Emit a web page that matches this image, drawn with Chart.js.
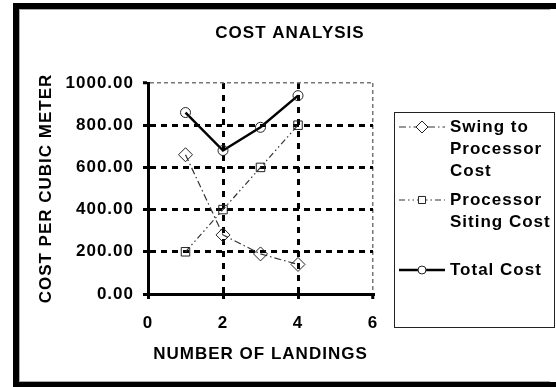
<!DOCTYPE html>
<html>
<head>
<meta charset="utf-8">
<script src="https://cdn.jsdelivr.net/npm/chart.js@4/dist/chart.umd.min.js"></script>
<style>
  html, body { margin: 0; padding: 0; background: #fff; overflow: hidden; }
  #wrap { position: relative; width: 556px; height: 387px; overflow: hidden; background: #fff; }
  #frame { position: absolute; left: 13px; top: 3px; width: 530px; height: 373px;
           border: 0; border-left: 6px solid #000; border-top: 6px solid #000; border-bottom: 5px solid #000; }
  #inner { position: absolute; left: 0; top: 0; width: 530px; height: 371px;
           border: 0; border-left: 1px solid #aaa; border-top: 1px solid #aaa; border-bottom: 1px solid #aaa; }
  #ext { position: absolute; left: 549px; top: 3px; width: 7px; height: 384px;
         border-top: 6px solid #000; border-bottom: 5px solid #000; box-sizing: border-box; }
  canvas { position: absolute; left: 0; top: 0; }
</style>
</head>
<body>
<div id="wrap">
  <div id="frame"><div id="inner"></div></div>
  <div id="ext"></div>
  <canvas id="c" width="556" height="387"></canvas>
</div>
<script>
// ---- data ----
const chartTitle = "COST ANALYSIS";
const xAxisTitle = "NUMBER OF LANDINGS";
const yAxisTitle = "COST PER CUBIC METER";
const landings = [1, 2, 3, 4];
const swingToProcessorCost = [660, 280, 190, 140];
const processorSitingCost = [200, 400, 600, 800];
const totalCost = [860, 680, 790, 940];
const seriesLabels = ["Swing to Processor Cost", "Processor Siting Cost", "Total Cost"];
const legendLines = [["Swing to", "Processor", "Cost"], ["Processor", "Siting Cost"], ["Total Cost"]];
const xTickValues = [0, 2, 4, 6];
const yTickValues = [0, 200, 400, 600, 800, 1000];

const FONT = "'Liberation Sans', Arial, sans-serif";
const toPoints = (ys) => landings.map((x, i) => ({ x: x, y: ys[i] }));

const spacingPlugin = {
  id: 'spacing',
  beforeDraw(chart) { chart.ctx.letterSpacing = '1px'; }
};

const titlePlugin = {
  id: 'customTitle',
  afterDraw(chart) {
    const ctx = chart.ctx;
    ctx.save();
    ctx.letterSpacing = '1px';
    ctx.font = "bold 17px " + FONT;
    ctx.fillStyle = '#000';
    ctx.textAlign = 'center';
    ctx.textBaseline = 'middle';
    ctx.fillText(chartTitle, 290, 33);
    ctx.restore();
  }
};

const legendPlugin = {
  id: 'customLegend',
  afterDraw(chart) {
    const ctx = chart.ctx;
    ctx.save();
    ctx.letterSpacing = '1px';
    ctx.setLineDash([]);
    ctx.lineWidth = 1;
    ctx.strokeStyle = '#222';
    ctx.strokeRect(394.5, 112.5, 160, 215);
    const sampleY = [127, 200, 270];
    const lineH = 22;
    chart.data.datasets.forEach((ds, i) => {
      const y = sampleY[i];
      ctx.save();
      ctx.strokeStyle = ds.borderColor;
      ctx.lineWidth = ds.borderWidth;
      ctx.setLineDash(ds.borderDash || []);
      ctx.beginPath();
      ctx.moveTo(399, y);
      ctx.lineTo(445, y);
      ctx.stroke();
      ctx.restore();
      ctx.save();
      ctx.setLineDash([]);
      ctx.fillStyle = '#fff';
      ctx.strokeStyle = ds.pointBorderColor;
      ctx.lineWidth = ds.pointBorderWidth;
      Chart.helpers.drawPoint(ctx, {
        pointStyle: ds.pointStyle,
        radius: ds.pointRadius - 1,
        borderWidth: ds.pointBorderWidth,
        rotation: 0
      }, 422, y);
      ctx.restore();
      ctx.font = "bold 17px " + FONT;
      ctx.fillStyle = '#000';
      ctx.textAlign = 'left';
      ctx.textBaseline = 'middle';
      legendLines[i].forEach((t, j) => {
        ctx.fillText(t, 450, y + j * lineH);
      });
    });
    ctx.restore();
  }
};

new Chart(document.getElementById('c'), {
  type: 'line',
  data: {
    datasets: [
      {
        label: seriesLabels[0],
        data: toPoints(swingToProcessorCost),
        borderColor: '#333',
        borderWidth: 1.2,
        borderDash: [7, 3, 1.5, 3],
        pointStyle: 'rectRot',
        pointRadius: 7,
        pointBorderWidth: 1,
        pointBorderColor: '#222',
        pointBackgroundColor: 'rgba(255,255,255,0)',
        fill: false,
        tension: 0
      },
      {
        label: seriesLabels[1],
        data: toPoints(processorSitingCost),
        borderColor: '#333',
        borderWidth: 1.2,
        borderDash: [6, 3, 1.5, 3, 1.5, 3],
        pointStyle: 'rect',
        pointRadius: 6,
        pointBorderWidth: 1,
        pointBorderColor: '#222',
        pointBackgroundColor: 'rgba(255,255,255,0)',
        fill: false,
        tension: 0
      },
      {
        label: seriesLabels[2],
        data: toPoints(totalCost),
        borderColor: '#000',
        borderWidth: 2.5,
        borderDash: [],
        pointStyle: 'circle',
        pointRadius: 5,
        pointBorderWidth: 1,
        pointBorderColor: '#222',
        pointBackgroundColor: 'rgba(255,255,255,0)',
        fill: false,
        tension: 0
      }
    ]
  },
  options: {
    responsive: false,
    animation: false,
    events: [],
    layout: { padding: { left: 0, right: 183, top: 83, bottom: 0 } },
    plugins: {
      legend: { display: false },
      title: { display: false },
      tooltip: { enabled: false }
    },
    scales: {
      x: {
        type: 'linear',
        min: 0, max: 6,
        afterBuildTicks: (s) => { s.ticks = xTickValues.map(v => ({ value: v })); },
        afterFit: (s) => { s.height = 93; },
        ticks: {
          color: '#000',
          font: { family: FONT, size: 17, weight: 'bold' },
          padding: 14,
          maxRotation: 0,
          callback: (v) => String(v)
        },
        grid: {
          drawTicks: true,
          tickLength: 5,
          tickColor: '#000',
          tickWidth: 3,
          color: (c) => {
            const v = c.tick ? c.tick.value : null;
            if (v === 0) return 'rgba(0,0,0,0)';
            if (v === 6) return '#777';
            return '#000';
          },
          lineWidth: (c) => {
            const v = c.tick ? c.tick.value : null;
            if (v === 6) return 1.5;
            return 3;
          }
        },
        border: { display: true, color: '#000', width: 3, dash: (c) => {
          if (!c.tick) return [];
          return c.tick.value === 6 ? [4, 3] : [6, 6];
        } },
        title: {
          display: true,
          text: xAxisTitle,
          color: '#000',
          font: { family: FONT, size: 17, weight: 'bold' },
          padding: { top: 0, bottom: 22 }
        }
      },
      y: {
        type: 'linear',
        min: 0, max: 1000,
        afterBuildTicks: (s) => { s.ticks = yTickValues.map(v => ({ value: v })); },
        afterFit: (s) => { s.width = 148; },
        ticks: {
          color: '#000',
          font: { family: FONT, size: 17, weight: 'bold' },
          padding: 9,
          callback: (v) => Number(v).toFixed(2)
        },
        grid: {
          drawTicks: true,
          tickLength: 5,
          tickColor: '#000',
          tickWidth: 3,
          color: (c) => {
            const v = c.tick ? c.tick.value : null;
            if (v === 0) return 'rgba(0,0,0,0)';
            if (v === 1000) return '#777';
            return '#000';
          },
          lineWidth: (c) => {
            const v = c.tick ? c.tick.value : null;
            if (v === 1000) return 1.5;
            return 3;
          }
        },
        border: { display: true, color: '#000', width: 3, dash: (c) => {
          if (!c.tick) return [];
          return c.tick.value === 1000 ? [4, 3] : [6, 5];
        } },
        title: {
          display: true,
          text: yAxisTitle,
          color: '#000',
          font: { family: FONT, size: 17, weight: 'bold' },
          padding: { top: 36, bottom: 0 }
        }
      }
    }
  },
  plugins: [spacingPlugin, titlePlugin, legendPlugin]
});
</script>
</body>
</html>
